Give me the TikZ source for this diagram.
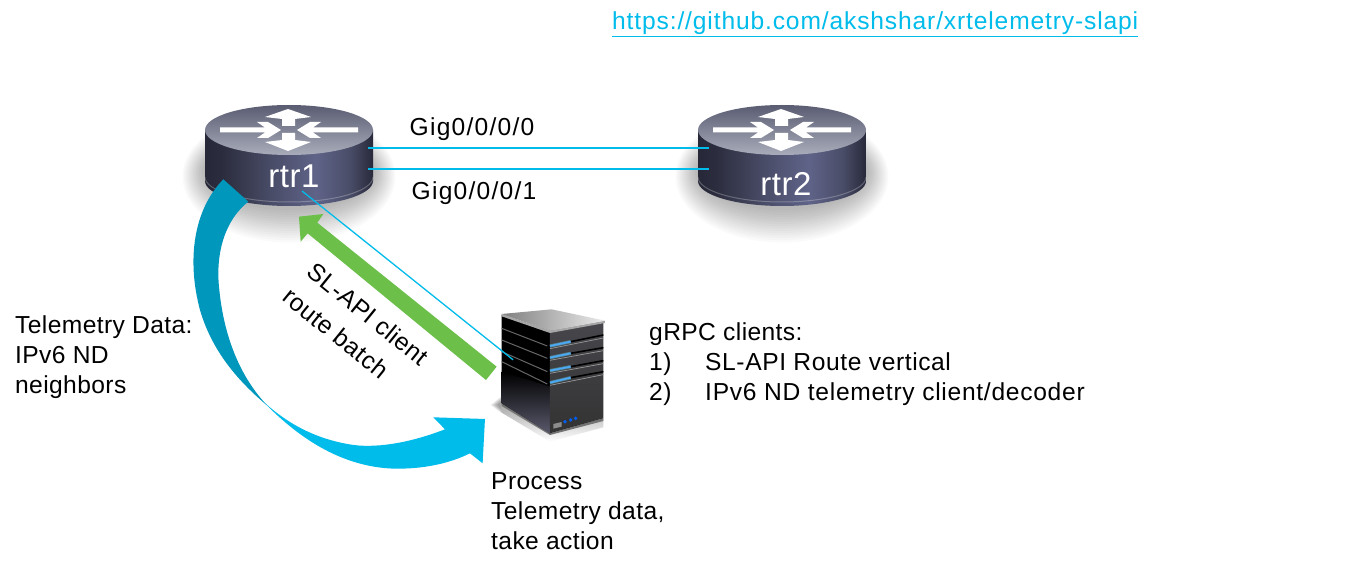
\documentclass[tikz,border=0pt]{standalone}
\usepackage{fontspec}
\setmainfont{Liberation Sans}[LetterSpace=1.6]
\usetikzlibrary{calc}
\definecolor{ciscoblue}{HTML}{00BCEB}
\definecolor{ciscodark}{HTML}{0097BD}
\definecolor{ciscogreen}{HTML}{6CC04A}
\definecolor{bodyA}{HTML}{484A5C}
\definecolor{bodyB}{HTML}{3A3B4D}
\definecolor{bodyC}{HTML}{232434}
\definecolor{bodyD}{HTML}{2B2C3D}
\definecolor{bodyE}{HTML}{4A4D68}
\definecolor{bodyF}{HTML}{5F6388}
\definecolor{bodyG}{HTML}{3E4053}
\definecolor{topA}{HTML}{5A5D72}
\definecolor{topB}{HTML}{A9ACBA}
\definecolor{server}{HTML}{46464C}
\pgfdeclarehorizontalshading{routerbody}{100bp}{
  color(0bp)=(bodyA);
  color(12bp)=(bodyB);
  color(22bp)=(bodyC);
  color(30bp)=(bodyD);
  color(45bp)=(bodyE);
  color(58bp)=(bodyF);
  color(68bp)=(bodyE);
  color(76bp)=(bodyC);
  color(84bp)=(bodyD);
  color(100bp)=(bodyG)}
\tikzset{
  lbl/.style={font=\fontsize{24.6}{28}\selectfont, anchor=base west, inner sep=0pt, text=black},
  wide/.style={font=\fontsize{24.6}{28}\selectfont\addfontfeature{LetterSpace=#1}},
  gig/.style={font=\fontsize{24.6}{28}\selectfont\addfontfeature{LetterSpace=5}, inner sep=0pt, text=black},
  turned/.style={font=\fontsize{24.6}{28}\selectfont, inner sep=0pt, text=black, rotate=-39},
  rname/.style={font=\fontsize{33}{36}\selectfont, inner sep=0pt, text=white},
  link/.style={draw=ciscoblue, line width=1.7pt},
  pics/router/.style={code={
    \foreach \i in {1,...,15}{
      \fill[black,opacity=0.02] (0,{42+\i*.3}) ellipse [x radius={84pt+\i*1.5pt}, y radius={36pt+\i*2pt}];
    }
    \shade[shading=routerbody] (-84,0) -- (-84,51) arc (180:360:84pt and 25pt) -- (84,0) -- cycle;
    \draw[white,opacity=.25,line width=1pt] (-84,47) arc (180:360:84pt and 25pt);
    \shade[top color=topA, bottom color=topB] (0,0) ellipse [x radius=84pt, y radius=25pt];
    \fill[white] (-69,-2.5) -- (-24,-2.5) -- (-32,-8) -- (-21,-8) -- (-8,0) -- (-21,8) -- (-32,8) -- (-24,2.5) -- (-69,2.5) -- cycle;
    \fill[white] (69,-2.5) -- (24,-2.5) -- (32,-8) -- (21,-8) -- (8,0) -- (21,8) -- (32,8) -- (24,2.5) -- (69,2.5) -- cycle;
    \fill[white] (-7,-4) -- (-7,-11) -- (-24,-13) -- (-1,-21) -- (22,-13) -- (6,-11) -- (6,-4) -- cycle;
    \fill[white] (-7,3) -- (-7,10) -- (-24,12) -- (-1,21) -- (22,12) -- (6,10) -- (6,3) -- cycle;
  }}
}
\begin{document}
\begin{tikzpicture}[x=1pt,y=-1pt]
\useasboundingbox (0,0) rectangle (1347,572);
\fill[white] (0,0) rectangle (1347,572);

% routers
\pic at (289,130) {router};
\pic at (782,130) {router};
\node[rname] (rtr1) at (294,176) {rtr1};
\node[rname] (rtr2) at (786,184) {rtr2};

% server
\begin{scope}[shift={(470,290)},x=.3333pt,y=-.3333pt]
  \foreach \i in {1,...,6}{
    \fill[black,opacity=.07] (95,{315+\i*3}) -- ({58+\i*4},345) -- (95,{372-\i*2}) -- cycle;
  }
  \shade[top color=black!35, bottom color=white] (95,340) -- (240,430) -- (400,385) -- (400,412) -- (240,455) -- (95,368) -- cycle;
  \fill[black!55] (95,340) -- (240,430) -- (400,385) -- (400,393) -- (240,435) -- (95,348) -- cycle;
  \fill[black] (95,75) -- (240,122) -- (240,430) -- (95,340) -- cycle;
  \shade[top color=black, bottom color=black!75!blue!30!gray] (95,245) -- (240,290) -- (240,430) -- (95,340) -- cycle;
  \shade[top color=server, bottom color=black!80] (240,122) -- (400,95) -- (400,385) -- (240,430) -- cycle;
  \fill[black!35] (95,72) -- (240,122) -- (405,92) -- (405,99) -- (240,129) -- (95,79) -- cycle;
  \shade[left color=black!50, right color=black!8] (95,72) -- (245,58) -- (405,92) -- (240,122) -- cycle;
  \foreach \a/\b in {115/168,150/205,185/245,215/282}{
    \draw[black!60,line width=1pt] (95,\a) -- (232,\b);
  }
  \foreach \a/\b/\c in {168/155/135,203/190/173,242/230/212,278/263/245}{
    \draw[black,line width=1.6pt] (302,\b) -- (400,\c);
    \draw[black!40,line width=.7pt] (240,{\a+8}) -- (400,{\c+9});
    \draw[ciscoblue!60,opacity=.45,line width=3.2pt] (240,\a) -- (302,\b);
    \draw[ciscoblue!70!blue!70!white,line width=1.7pt] (240,\a) -- (302,\b);
  }
  \fill[black!45] (250,402) -- (275,396) -- (275,410) -- (250,416) -- cycle;
  \foreach \p/\q in {285/395,302/390,317/385}{
    \fill[ciscoblue!50!blue] (\p,\q) circle [radius=1.9pt];
  }
  \node[inner sep=0pt,minimum size=0pt] (srv) at (130,210) {};
\end{scope}

% telemetry arc
\begin{scope}[shift={(180,170)},x=.3333pt,y=-.3333pt]
  \fill[ciscodark] (130,28) .. controls (40,120) and (20,270) .. (60,420) .. controls (95,540) and (170,630) .. (262,707) .. controls (170,610) and (130,480) .. (118,360) .. controls (105,250) and (135,150) .. (205,95) -- cycle;
  \fill[ciscoblue] (245,690) .. controls (350,800) and (480,890) .. (640,896) .. controls (730,898) and (810,880) .. (870,850) -- (908,880) -- (915,747) -- (760,742) -- (795,778) .. controls (700,815) and (600,835) .. (520,825) .. controls (420,810) and (330,770) .. (245,690) -- cycle;
  % green arrow
  \fill[ciscogreen] (357,140) -- (430,132) -- (412,158) -- (950,590) -- (918,630) -- (383,190) -- (362,215) -- cycle;
\end{scope}

% links
\coordinate (a1) at (368,148);
\coordinate (b1) at (709,148);
\coordinate (a2) at (368,169);
\coordinate (b2) at (709,169);
\coordinate (rtr1foot) at (302,191);
\draw[link] (a1) -- (b1);
\draw[link] (a2) -- (b2);
\draw[draw=ciscoblue,line width=1.3pt] (rtr1foot) -- (srv);

% labels
\node[lbl,wide=3.5,text=ciscoblue] (url) at (612,30) {\underline{https://github.com/akshshar/xrtelemetry-slapi}};
\node[gig] (g0) at (472,129) {Gig0/0/0/0};
\node[gig] (g1) at (474,193) {Gig0/0/0/1};
\node[lbl] (t1) at (15,333) {Telemetry Data:};
\node[lbl] (t2) at (15,363) {IPv6 ND};
\node[lbl] (t3) at (15,393) {neighbors};
\node[lbl] (c0) at (649,340) {gRPC clients:};
\node[lbl] (c1) at (649,370) {1)};
\node[lbl,wide=2.4] (c1t) at (705,370) {SL-API Route vertical};
\node[lbl] (c2) at (649,400) {2)};
\node[lbl,wide=2.9] (c2t) at (705,400) {IPv6 ND telemetry client/decoder};
\node[lbl] (p1) at (491,489) {Process};
\node[lbl] (p2) at (491,519) {Telemetry data,};
\node[lbl] (p3) at (491,549) {take action};
\node[turned] (s1) at (368,314) {SL-API client};
\node[turned] (s2) at (336,333) {route batch};
\end{tikzpicture}
\end{document}
